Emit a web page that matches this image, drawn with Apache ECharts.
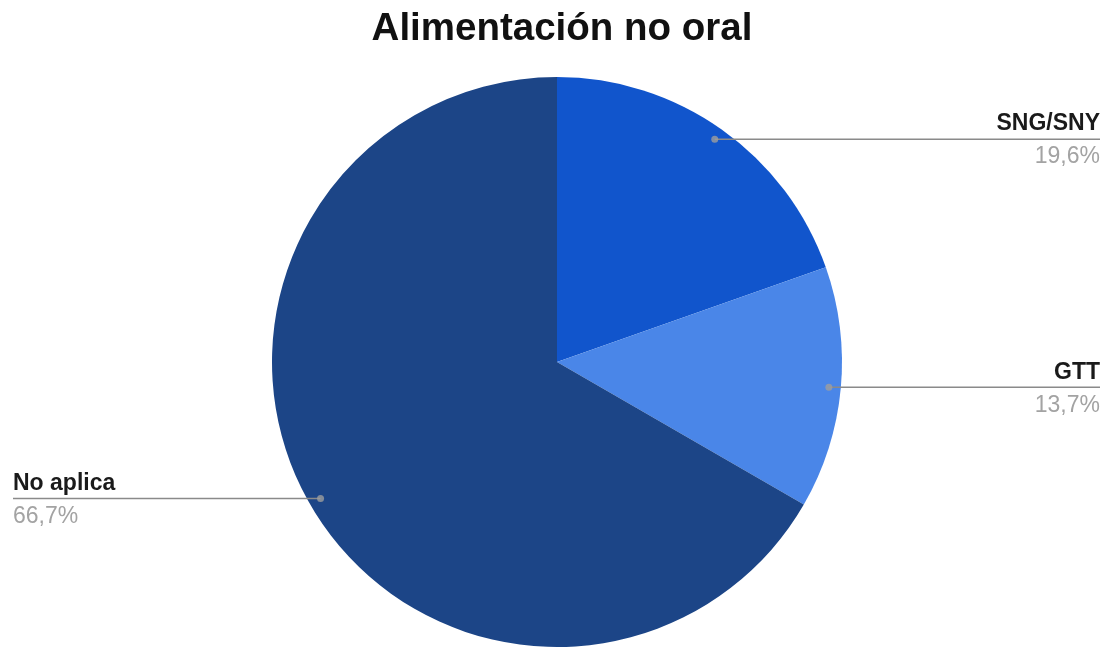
<!DOCTYPE html>
<html>
<head>
<meta charset="utf-8">
<script src="https://cdn.jsdelivr.net/npm/echarts@6/dist/echarts.min.js"></script>
<style>
  html, body { margin: 0; padding: 0; background: #ffffff; }
  #chart { width: 1109px; height: 650px; }
</style>
</head>
<body>
<div id="chart"></div>
<script>
// Feeding method counts (share of 51 patients)
const categories = ['SNG/SNY', 'GTT', 'No aplica'];
const counts = [10, 7, 34];
const colors = ['#1155cc', '#4a86e8', '#1c4587'];
const titleText = 'Alimentación no oral';

const FONT = '"Liberation Sans", Arial, sans-serif';
const CX = 557, CY = 362, R = 285;
const DOT_RATIO = 0.958;
const LEFT_EDGE = 13, RIGHT_EDGE = 1100;

const total = counts.reduce((a, b) => a + b, 0);
// Mid angle of each slice, in percent of the full turn, for the marker dots
const mids = [];
let acc = 0;
counts.forEach(v => { mids.push((acc + v / 2) / total * 100); acc += v; });

const pieData = categories.map((name, i) => ({ name, value: counts[i], itemStyle: { color: colors[i] } }));

const chart = echarts.init(document.getElementById('chart'));

chart.setOption({
  animation: false,
  backgroundColor: '#ffffff',
  title: {
    text: titleText,
    left: 557,
    textAlign: 'center',
    top: 5,
    textStyle: { fontFamily: FONT, fontSize: 38.5, fontWeight: 'bold', color: '#111111' }
  },
  polar: { center: [CX, CY], radius: R },
  angleAxis: { type: 'value', min: 0, max: 100, startAngle: 90, clockwise: true, show: false },
  radiusAxis: { type: 'value', min: 0, max: 1, show: false },
  series: [
    // filled slices
    {
      type: 'pie',
      center: [CX, CY],
      radius: [0, R],
      startAngle: 90,
      clockwise: true,
      silent: true,
      z: 1,
      data: pieData,
      label: { show: false },
      labelLine: { show: false }
    },
    // transparent overlay carrying the labels and leader lines above the slices
    {
      type: 'pie',
      center: [CX, CY],
      radius: [0, R],
      startAngle: 90,
      clockwise: true,
      silent: true,
      z: 3,
      percentPrecision: 1,
      data: pieData.map(d => ({ name: d.name, value: d.value, itemStyle: { color: 'rgba(0,0,0,0)' } })),
      label: {
        show: true,
        position: 'outside',
        formatter: p => '{n|' + p.name + '}\n{p|' + p.percent.toFixed(1).replace('.', ',') + '%}',
        rich: {
          n: { fontFamily: FONT, fontSize: 23, fontWeight: 'bold', color: '#1a1a1a', lineHeight: 33 },
          p: { fontFamily: FONT, fontSize: 23, color: '#a3a3a3', lineHeight: 33 }
        }
      },
      labelLine: { show: true, length: 5, length2: 5, lineStyle: { color: '#8a8a8a', width: 1.5 } },
      labelLayout: function (params) {
        const p0 = params.labelLinePoints[0];
        const dx = CX + (p0[0] - CX) * DOT_RATIO;
        const dy = CY + (p0[1] - CY) * DOT_RATIO;
        const isLeft = p0[0] < CX;
        const edge = isLeft ? LEFT_EDGE : RIGHT_EDGE;
        return {
          x: edge,
          y: dy + 1.5,
          align: isLeft ? 'left' : 'right',
          verticalAlign: 'middle',
          labelLinePoints: [[dx, dy], [dx, dy], [edge, dy]]
        };
      }
    },
    {
      type: 'scatter',
      coordinateSystem: 'polar',
      silent: true,
      symbol: 'circle',
      symbolSize: 7,
      itemStyle: { color: '#9e9e9e' },
      data: mids.map(m => [DOT_RATIO, m]),
      z: 5
    }
  ]
});
</script>
</body>
</html>
